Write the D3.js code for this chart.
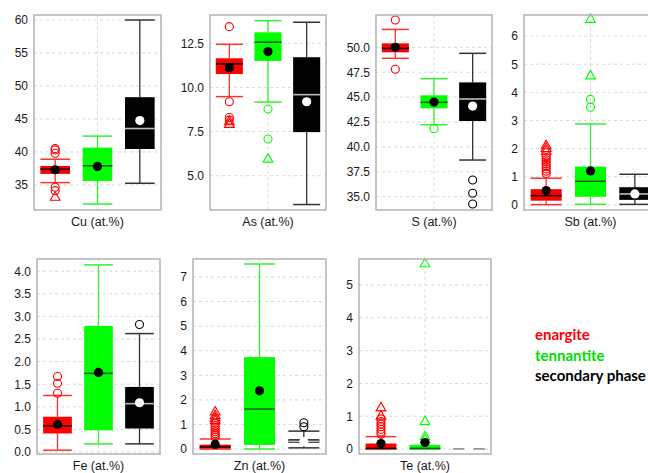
<!DOCTYPE html>
<html>
<head>
<meta charset="utf-8">
<script src="https://cdn.jsdelivr.net/npm/d3@7"></script>
<style>
  html, body { margin: 0; padding: 0; background: #fff; }
  svg { display: block; font-family: "Liberation Sans", Arial, sans-serif; }
</style>
</head>
<body>
<svg id="chart" width="648" height="473"></svg>
<script>
// Element panels (axis titles)
const elements = ["Cu (at.%)", "As (at.%)", "S (at.%)", "Sb (at.%)", "Fe (at.%)", "Zn (at.%)", "Te (at.%)"];
const groups = ["enargite", "tennantite", "secondary phase"];

// Box statistics per element: [lower whisker, Q1, median, Q3, upper whisker, mean]
const enargiteStats = [
  [35.35, 36.67, 37.38, 37.88, 38.9, 37.3],
  [9.48, 10.76, 11.33, 11.65, 12.44, 11.12],
  [48.9, 49.5, 49.9, 50.4, 51.8, 50.0],
  [0.01, 0.15, 0.33, 0.56, 0.95, 0.51],
  [0.04, 0.41, 0.58, 0.78, 1.25, 0.61],
  [0.0, 0.02, 0.09, 0.18, 0.41, 0.19],
  [0.0, 0.0, 0.02, 0.17, 0.38, 0.17]
];
const tennantiteStats = [
  [32.1, 35.6, 37.9, 40.65, 42.4, 37.8],
  [9.17, 11.5, 12.56, 13.12, 13.78, 12.03],
  [42.23, 43.87, 44.48, 45.18, 46.85, 44.5],
  [0.02, 0.29, 0.84, 1.36, 2.88, 1.21],
  [0.18, 0.48, 1.74, 2.79, 4.14, 1.76],
  [0.0, 0.17, 1.63, 3.74, 7.53, 2.37],
  [0.0, 0.0, 0.02, 0.11, 0.11, 0.2]
];
const secondaryStats = [
  [35.25, 40.45, 43.55, 48.3, 60.0, 44.75],
  [3.37, 7.47, 9.59, 11.71, 13.69, 9.19],
  [38.68, 42.6, 44.81, 46.48, 49.4, 44.1],
  [0.02, 0.18, 0.39, 0.63, 1.09, 0.39],
  [0.18, 0.52, 1.07, 1.44, 2.62, 1.09],
  [0.05, 0.26, 0.32, 0.40, 0.73, 0.3],
  [0.0, 0.0, 0.0, 0.0, 0.0, 0.0]
];

// Outliers drawn as open circles
const enargiteCircles = [
  [40.5, 40.3, 39.8, 34.65, 34.13],
  [13.44, 9.19, 8.3, 8.15],
  [52.75, 47.8],
  [1.12, 1.2, 1.28, 1.36, 1.45, 1.53, 1.6, 1.68, 1.75],
  [1.67, 1.52, 1.30],
  [0.48, 0.55, 0.62, 0.7, 0.78, 0.86, 0.95, 1.05],
  [0.45, 0.52, 0.6, 0.68, 0.76, 0.84, 0.92]
];
const tennantiteCircles = [[], [8.78, 7.08], [41.83], [3.47, 3.75], [], [], []];
const secondaryCircles = [[], [], [36.68, 35.34, 34.27], [], [2.82], [0.91, 1.07], []];

// Outliers drawn as open triangles
const enargiteTriangles = [[33.1], [8.05, 7.9], [], [1.9, 2.0, 2.1], [], [1.15, 1.25, 1.35, 1.5], [1.0, 1.25]];
const tennantiteTriangles = [[], [5.93], [], [4.58, 6.59], [], [], [0.28, 0.37, 0.83, 5.64]];
const secondaryTriangles = [[], [], [], [], [], [], []];

// Y axis domains and tick values per panel
const yDomains = [[31.2, 60.76], [3.06, 14.1], [33.66, 53.25], [-0.18, 6.75], [-0.044, 4.27], [-0.2, 7.73], [-0.15, 5.79]];
const yTicks = [
  [35, 40, 45, 50, 55, 60],
  [5.0, 7.5, 10.0, 12.5],
  [35.0, 37.5, 40.0, 42.5, 45.0, 47.5, 50.0],
  [0, 1, 2, 3, 4, 5, 6],
  [0.0, 0.5, 1.0, 1.5, 2.0, 2.5, 3.0, 3.5, 4.0],
  [0, 1, 2, 3, 4, 5, 6, 7],
  [0, 1, 2, 3, 4, 5]
];
const tickFormats = ["d", ".1f", ".1f", "d", ".1f", "d", "d"];

// Panel frames [x0, x1, y0, y1]
const frames = [
  [34, 161, 15, 210], [210, 326, 15, 210], [376, 492, 15, 210], [524, 657, 15, 210],
  [37, 160, 259, 454], [193, 326, 259, 454], [359, 491, 259, 454]
];

const stats = [enargiteStats, tennantiteStats, secondaryStats];
const circles = [enargiteCircles, tennantiteCircles, secondaryCircles];
const triangles = [enargiteTriangles, tennantiteTriangles, secondaryTriangles];

const style = {
  fill: ["#ff0000", "#00ff00", "#000000"],
  whisker: ["#ff3030", "#33f033", "#333333"],
  median: ["#1a0000", "#1f5f1f", "#bdbdbd"],
  mean: ["#000000", "#000000", "#ffffff"],
  legend: ["#ff0000", "#00dd00", "#000000"]
};

const svg = d3.select("#chart");
const triPath = d3.symbol().type(d3.symbolTriangle).size(42)();

elements.forEach((el, i) => {
  const [x0, x1, y0, y1] = frames[i];
  const y = d3.scaleLinear().domain(yDomains[i]).range([y1, y0]);
  const x = d3.scalePoint().domain(groups).range([x0, x1]).padding(0.5);
  const bw = x.step() * 0.7;
  const g = svg.append("g");

  // horizontal grid
  g.selectAll("line.grid").data(yTicks[i]).join("line")
    .attr("x1", x0).attr("x2", x1)
    .attr("y1", d => y(d)).attr("y2", d => y(d))
    .attr("stroke", "#d9d9d9").attr("stroke-dasharray", "3,3").attr("stroke-width", 1);
  // vertical grid at middle category
  g.append("line")
    .attr("x1", x(groups[1])).attr("x2", x(groups[1]))
    .attr("y1", y0).attr("y2", y1)
    .attr("stroke", "#d9d9d9").attr("stroke-dasharray", "3,3");

  // y axis labels
  const axis = d3.axisLeft(y).tickValues(yTicks[i]).tickFormat(d3.format(tickFormats[i])).tickSize(0).tickPadding(6);
  const ax = g.append("g").attr("transform", `translate(${x0},0)`).call(axis);
  ax.select(".domain").remove();
  ax.selectAll("text").attr("font-size", 12).attr("fill", "#1a1a1a").attr("font-family", "Liberation Sans, Arial, sans-serif");

  groups.forEach((grp, k) => {
    const s = stats[k][i];
    const cx = x(grp);
    const [lo, q1, med, q3, hi, mean] = s;
    // whiskers
    g.append("line").attr("x1", cx).attr("x2", cx).attr("y1", y(hi)).attr("y2", y(q3))
      .attr("stroke", style.whisker[k]).attr("stroke-width", 1.3);
    g.append("line").attr("x1", cx).attr("x2", cx).attr("y1", y(q1)).attr("y2", y(lo))
      .attr("stroke", style.whisker[k]).attr("stroke-width", 1.3);
    [hi, lo].forEach(v => {
      g.append("line").attr("x1", cx - bw / 2).attr("x2", cx + bw / 2)
        .attr("y1", y(v)).attr("y2", y(v))
        .attr("stroke", style.whisker[k]).attr("stroke-width", 1.5);
    });
    // box
    g.append("rect").attr("x", cx - bw / 2).attr("width", bw)
      .attr("y", y(q3)).attr("height", Math.max(0, y(q1) - y(q3)))
      .attr("fill", style.fill[k]);
    // median
    g.append("line").attr("x1", cx - bw / 2).attr("x2", cx + bw / 2)
      .attr("y1", y(med)).attr("y2", y(med))
      .attr("stroke", style.median[k]).attr("stroke-width", 1.6);
    // outliers
    circles[k][i].forEach(v => {
      g.append("circle").attr("cx", cx).attr("cy", y(v)).attr("r", 4)
        .attr("fill", "none").attr("stroke", style.fill[k]).attr("stroke-width", 1.1);
    });
    triangles[k][i].forEach(v => {
      g.append("path").attr("d", triPath).attr("transform", `translate(${cx},${y(v)})`)
        .attr("fill", "none").attr("stroke", style.fill[k]).attr("stroke-width", 1.1);
    });
  });
  // means on top
  groups.forEach((grp, k) => {
    g.append("circle").attr("cx", x(grp)).attr("cy", y(stats[k][i][5])).attr("r", 4.6)
      .attr("fill", style.mean[k]);
  });

  // frame
  g.append("rect").attr("x", x0).attr("y", y0).attr("width", x1 - x0).attr("height", y1 - y0)
    .attr("fill", "none").attr("stroke", "#b3b3b3").attr("stroke-width", 1.5);

  // axis title
  g.append("text").attr("x", (x0 + x1) / 2).attr("y", y1 + 16)
    .attr("text-anchor", "middle").attr("font-size", 12.5).attr("fill", "#1a1a1a").text(el);
});

// legend
const legendY = [340, 361, 381];
groups.forEach((grp, k) => {
  svg.append("text").attr("x", 535).attr("y", legendY[k])
    .attr("font-family", "Lato, 'Open Sans', sans-serif").attr("font-weight", "bold")
    .attr("font-size", 15).attr("fill", style.legend[k]).text(grp);
});
</script>
</body>
</html>
